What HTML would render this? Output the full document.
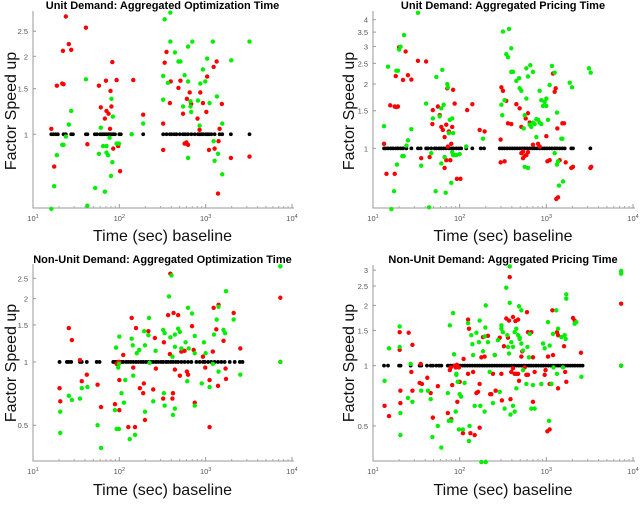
<!DOCTYPE html>
<html><head><meta charset="utf-8">
<style>
html,body{margin:0;padding:0;background:#fff;}
svg{display:block;font-family:"Liberation Sans",sans-serif;}
</style></head>
<body>
<svg id="chart" width="640" height="515" viewBox="0 0 640 515"></svg>
<script>
// ---------- DATA ----------
const p1BlackX=[16.3,17.3,18.4,19.4,22.6,24,27.7,29,41,42.7,52,55,60,62.5,65,68,71,75,78,82,85,89,100,104,139,189,322,352,385,402,432,459,502,547,582,625,683,747,816,853,892,932,1000,1045,1092,1161,1269,1451,1556,1960,3220];
const p1RedX=[16.3,17.6,18.9,21.8,22.6,22.2,24,26,27.7,41,42.6,58,61,68,70,71,75,78,79,81,83,85,93,97,102,145,189,322,322,335,352,385,394,484,510,547,570,598,625,606,653,680,805,850,867,930,1018,1040,1092,1237,1340,1269,1410,1390,1450,1540,1960,3220];
const p1RedY=[1.05,0.75,1.54,1.57,1.56,2.10,2.85,2.23,2.12,2.58,0.915,1.54,1.27,1.15,1.61,1.23,1.2,1.05,1.47,1.28,1.9,0.88,1.62,0.9,0.72,1.62,1.19,1.1,0.87,1.89,2.08,1.32,1.6,1.51,1.61,1.2,0.92,0.93,0.91,1.37,1.45,1.31,1.15,1.04,1.45,1.32,1.22,1.67,0.87,1.82,1.91,0.88,0.94,0.59,1.05,1.31,0.81,0.82];
const p1GreenX=[16.3,17.6,18.9,21.8,22.6,24,26,27.7,41,42.6,52.5,58,61,65,68,71,71,74,77,80,81,84,83,93,99,139,189,322,322,335,365,390,390,440,484,510,570,547,625,625,625,667,667,680,700,815,850,867,930,990,1040,1110,1210,1237,1269,1350,1390,1557,1557,1977,3220];
const p1GreenY=[0.515,0.63,0.83,0.91,0.91,0.98,1.09,1.23,1.63,0.53,0.62,0.84,1.06,0.9,0.6,0.9,0.85,0.83,0.97,0.69,1.37,1.17,0.78,0.92,0.92,1.0,1.1,1.68,1.36,2.78,1.58,2.95,2.28,2.07,1.91,1.91,1.69,1.28,2.18,1.6,0.81,1.34,1.28,1.22,2.28,1.35,1.08,1.57,1.78,1.6,1.96,1.32,2.28,0.94,0.79,1.4,0.84,1.1,0.7,1.93,2.28];

const p2BlackX=[13.4,14,14.9,16,17,18.3,19.4,20.8,22.2,24.3,27.7,33,35.5,41,43,47,51.5,53.8,57.8,61.4,65.3,70,75,80,85,91.6,98,104,119,140,175,191,290,310,330,352,378,405,431,459,492,528,562,598,643,689,733,780,837,899,957,1018,1092,1161,1248,1327,1425,1530,1629,1940,2030,3220];
const p2RedX=[13.4,14.3,15.8,17.8,18.6,19.4,17.8,18.3,20,22.2,23.8,25.3,27.7,33,36,41,45,48.4,49,56,58.8,61.4,64,67,70,73,75,78,80,70,67,72,84,87.5,82,93,102,122,140,170,194,297,297,330,303,316,345,361,394,451,492,515,538,562,588,614,538,578,614,643,515,701,802,837,1000,1028,1092,1194,1248,1282,1303,1365,1340,1425,1530,1600,1671,1940,2030,3220,3300];
const p2RedY=[1.05,0.76,1.59,1.57,1.56,1.57,0.76,2.18,2.97,2.09,2.84,2.2,2.1,2.57,0.9,2.55,0.91,1.3,1.51,1.57,1.43,1.26,1.22,1.13,1.29,1.02,1.2,0.88,1.05,0.88,0.81,1.91,1.88,1.62,1.26,0.72,0.72,1.51,1.61,1.22,1.2,1.1,0.86,0.87,1.93,1.86,1.67,1.31,1.3,1.61,1.54,0.95,0.9,0.92,0.93,0.96,0.965,1.38,1.46,1.32,1.26,1.04,1.05,1.02,1.14,0.87,0.88,2.24,1.84,1.91,0.58,0.59,1.24,0.88,1.31,1.31,0.86,0.81,0.82,0.81,0.82];
const p2GreenX=[13.4,14.9,16.3,17.5,18.6,19.4,20,20.8,18.9,21.8,22.6,22.8,24.3,25.3,27.7,33,36,41,44.3,47,52.8,53.8,49,58.8,61.4,61.4,65.3,67,69,63,72,73,75,77,82,84,80,84,87.5,91.6,100,82,119,186,303,310,316,330,345,361,371,394,394,412,451,484,492,515,588,562,547,562,614,614,588,701,653,643,671,701,733,767,802,837,875,767,837,875,916,957,1000,1000,1045,1092,1161,1248,1248,1327,1365,1327,1400,1490,1530,1557,1860,1977,3100,3250];
const p2GreenY=[1.27,2.41,0.52,0.63,2.31,2.31,2.9,2.99,0.84,0.92,0.92,3.39,1.03,1.09,1.23,4.31,0.83,1.62,0.53,0.95,0.63,2.16,1.38,1.41,0.85,1.54,1.6,0.91,0.62,2.33,2.0,1.93,1.18,1.36,1.38,1.18,0.69,0.93,0.93,0.93,0.94,0.96,1.02,1.11,1.6,1.43,3.52,1.68,2.76,2.67,3.62,2.94,2.28,2.28,2.07,2.13,1.91,1.86,1.71,1.43,1.24,0.82,0.81,2.17,2.37,2.28,2.45,1.29,1.26,1.32,1.3,1.37,1.36,1.32,1.3,1.13,1.86,1.68,1.58,1.65,1.58,1.71,1.36,1.98,2.43,2.26,0.95,0.84,0.87,1.47,0.67,1.11,1.11,0.7,2.03,1.93,2.37,2.26];

const p3BlackX=[20.3,24.7,26,27.7,35,36.7,42,54.7,59,85,89,93,97,102,106,111,120,127,136,145,156,166,178,189,203,217,233,247,265,283,304,322,347,367,395,418,450,480,523,570,625,683,781,853,932,976,1068,1161,1269,1390,1520,1660,1900,2170,2490,2670,7330];
const p3RedX=[20.3,20.7,26,28.2,35,36.7,42,56,61.4,89,93,97,100,100,100,111,127,139,145,152,156,173,189,192,198,217,247,258,265,322,328,367,385,390,412,418,425,440,480,502,523,570,606,625,695,726,747,930,990,1110,1110,1210,1237,1327,1390,1410,1610,1700,1720,2110,2520,7330,7330];
const p3RedY=[0.75,0.65,1.45,1.27,1.02,0.81,0.87,0.78,0.61,0.63,0.98,1.0,1.0,0.59,0.82,1.08,0.49,1.62,0.94,0.49,1.45,0.75,0.71,0.79,0.53,1.4,0.74,1.3,0.93,0.67,1.24,1.67,1.09,2.63,0.67,0.71,1.71,0.92,1.67,0.86,1.12,1.13,0.9,0.87,1.48,1.14,0.64,1.06,0.94,0.82,0.49,1.12,1.81,1.43,0.77,1.87,1.26,0.93,0.83,1.71,1.16,2.02,1.0];
const p3GreenX=[20.7,20.7,26,28.2,35,36.7,42.7,56,61.4,89,91.6,93,97,99,100,99,106,113,117,132,139,143,145,152,159,170,194,198,198,217,221,224,247,263,322,328,335,335,376,390,402,412,418,440,440,440,480,502,523,585,612,625,636,695,747,747,747,900,955,1000,1110,1210,1245,1340,1410,1410,1610,1680,1720,2110,2520,7330,7330];
const p3GreenY=[0.58,0.46,0.69,0.66,0.67,0.75,0.76,0.5,0.39,0.59,1.17,0.48,0.94,0.98,1.32,0.48,0.71,0.64,0.82,0.43,1.29,1.2,0.86,0.45,1.1,1.14,1.4,1.2,0.58,1.34,1.62,0.99,0.65,1.13,1.42,0.71,1.37,0.62,2.05,1.31,2.58,1.06,0.56,1.35,1.18,0.6,1.44,1.39,1.16,1.24,0.81,1.81,1.16,1.7,1.33,1.1,0.62,0.79,1.24,1.1,0.76,0.98,1.35,1.59,1.83,0.9,1.42,1.37,2.17,1.59,0.87,2.85,1.0];

const p4BlackX=[13.4,14.9,20,20.8,27.2,34.5,36,42,46.3,49,53.8,57.8,61.4,73,78,83,89,95,101,108,115,123,131,140,150,160,170,182,194,207,221,236,252,269,287,306,327,349,372,397,424,452,483,515,550,587,626,668,713,761,812,867,925,987,1053,1124,1200,1280,1366,1458,1556,1660,1772,1891,2018,2154,2300,2455,2620,7300];
const p4RedX=[13.6,15.3,20.3,20.3,20.7,20.7,25.8,27.7,28.5,28.5,35.5,34.5,36.7,42.3,46.3,49,56,73,77,79,80,82,87.5,90,93,98,94,109,100,111,125,125,128,133,143,149,156,163,170,170,178,186,194,212,225,232,242,254,260,290,303,307,324,345,371,361,378,386,394,412,412,431,451,472,440,472,484,515,528,562,588,614,598,614,671,701,701,733,957,980,1028,1092,1045,1092,1145,1175,1194,1327,1365,1365,1600,1650,1700,2030,2120,2510,7300,7300];
const p4RedY=[0.63,0.56,1.47,1.2,0.75,0.65,1.46,0.93,0.75,1.27,1.02,0.82,0.81,0.87,0.73,0.55,0.79,0.58,0.95,0.98,0.54,0.8,1.0,0.98,1.01,0.98,0.66,0.46,0.83,1.08,1.7,0.91,1.53,0.46,0.93,0.45,0.73,0.74,0.49,0.81,1.1,1.39,1.11,1.41,0.72,0.72,0.91,1.13,0.75,1.38,0.91,0.67,1.25,1.72,1.68,1.38,2.77,0.68,0.93,0.97,1.75,0.91,0.91,0.91,1.67,1.7,0.84,1.11,1.18,0.98,0.9,0.9,1.85,1.47,1.47,1.1,0.66,0.93,0.9,0.95,0.47,0.48,1.11,0.81,0.81,1.89,1.13,1.47,0.77,1.42,1.25,0.93,0.83,1.73,1.68,1.16,2.04,1.0];
const p4GreenX=[13.6,15.3,20.3,20.3,20.7,20.7,27.2,25.3,28.5,36,43,46.3,48.4,56,61.4,73,77,75,80,84,86,90,91.6,91.6,95,98,100,104,109,114,125,128,130,136,140,143,149,156,167,170,173,178,186,194,194,198,200,200,212,222,242,254,276,290,303,303,316,330,345,355,361,371,378,378,386,394,412,431,451,472,492,515,538,412,431,451,484,492,515,538,588,605,630,643,671,733,701,875,916,957,1045,1075,1092,1145,1194,1210,1303,1327,1365,1490,1557,1629,1671,1700,1700,2120,2220,2540,7300,7300,7300];
const p4GreenY=[0.84,1.22,1.57,1.24,0.58,0.45,1.02,0.69,0.66,0.75,0.75,0.68,0.44,0.5,0.39,0.73,1.59,0.53,0.53,1.83,1.14,0.59,0.91,0.9,0.83,0.48,0.72,0.7,0.48,0.82,1.63,0.42,0.5,1.42,1.28,1.13,0.63,1.46,1.31,1.68,0.63,0.33,1.18,1.4,0.59,1.55,2.0,0.33,1.31,0.93,0.65,1.13,1.34,0.74,1.59,1.53,1.47,0.61,2.45,1.42,1.24,1.15,3.13,2.06,0.57,1.31,1.24,1.47,1.53,1.42,1.36,1.29,1.19,0.63,0.59,0.77,1.98,1.38,1.89,0.95,0.81,1.24,1.1,1.44,0.61,0.61,0.8,0.81,1.29,1.22,1.65,0.53,1.26,0.81,1.44,0.98,1.89,0.91,1.53,1.39,0.98,1.42,1.36,2.27,2.16,1.62,1.65,0.88,2.97,2.88,1.0];

const baselineSpeedup = 1;
const titles=["Unit Demand: Aggregated Optimization Time","Unit Demand: Aggregated Pricing Time","Non-Unit Demand: Aggregated Optimization Time","Non-Unit Demand: Aggregated Pricing Time"];
const p1YTicks=[1,1.5,2,2.5];
const p2YTicks=[1,1.5,2,2.5,3,3.5,4];
const p3YTicks=[0.5,1,1.5,2,2.5];
const p4YTicks=[0.5,1,1.5,2,2.5,3];
const xTickExps=[1,2,3,4];

// ---------- LAYOUT ----------
const NS="http://www.w3.org/2000/svg";
const svg=document.getElementById('chart');
function mk(tag,attrs,parent){const e=document.createElementNS(NS,tag);for(const k in attrs)e.setAttribute(k,attrs[k]);(parent||svg).appendChild(e);return e;}

const panels=[
 {key:'p1',x0:33,x1:292,yT:13,yB:208,yMin:0.519,yMax:2.94,black:p1BlackX,rx:p1RedX,ry:p1RedY,gx:p1GreenX,gy:p1GreenY,ticks:p1YTicks,title:titles[0],titleY:9,xlabY:241,ylabX:16,ylabY:111},
 {key:'p2',x0:373,x1:633,yT:13,yB:208,yMin:0.526,yMax:4.30,black:p2BlackX,rx:p2RedX,ry:p2RedY,gx:p2GreenX,gy:p2GreenY,ticks:p2YTicks,title:titles[1],titleY:9,xlabY:241,ylabX:354,ylabY:111},
 {key:'p3',x0:33,x1:292,yT:266,yB:461,yMin:0.338,yMax:2.86,black:p3BlackX,rx:p3RedX,ry:p3RedY,gx:p3GreenX,gy:p3GreenY,ticks:p3YTicks,title:titles[2],titleY:263,xlabY:495,ylabX:16,ylabY:363},
 {key:'p4',x0:373,x1:633,yT:267,yB:461,yMin:0.334,yMax:3.11,black:p4BlackX,rx:p4RedX,ry:p4RedY,gx:p4GreenX,gy:p4GreenY,ticks:p4YTicks,title:titles[3],titleY:263,xlabY:495,ylabX:354,ylabY:363}
];

panels.forEach(p=>{
  const g=mk('g',{});
  
  
  const xS=v=>p.x0+(Math.log10(v)-1)/3*(p.x1-p.x0);
  const yS=v=>p.yB-(Math.log(v)-Math.log(p.yMin))/(Math.log(p.yMax)-Math.log(p.yMin))*(p.yB-p.yT);
  const cx=(p.x0+p.x1)/2;

  const t=mk('text',{x:cx,y:p.titleY,'text-anchor':'middle','font-size':'11','font-weight':'bold',fill:'#000'},g);
  t.textContent=p.title;
  
  

  const ax=mk('path',{d:`M${p.x0},${p.yT-2}V${p.yB}H${p.x1+2}`,fill:'none',stroke:'#999','stroke-width':'1'},g);
  
  

  xTickExps.forEach(e=>{
    const x=xS(Math.pow(10,e));
    mk('line',{x1:x,x2:x,y1:p.yB,y2:p.yB-4,stroke:'#999'},g);
    const lt=mk('text',{x:x,y:p.yB+13,'text-anchor':'middle','font-size':'7.5',fill:'#555'},g);
    lt.textContent='10';
    const sp=mk('tspan',{dy:'-3','font-size':'5.5'},lt);
    sp.textContent=String(e);
    
    
    if(e<4){for(let m=2;m<=9;m++){const xm=xS(m*Math.pow(10,e));mk('line',{x1:xm,x2:xm,y1:p.yB,y2:p.yB-2,stroke:'#aaa'},g);}}
  });
  p.ticks.forEach(v=>{
    const y=yS(v);
    mk('line',{x1:p.x0,x2:p.x0+3,y1:y,y2:y,stroke:'#999'},g);
    const lt=mk('text',{x:p.x0-5,y:y+3,'text-anchor':'end','font-size':'7.5',fill:'#555'},g);
    lt.textContent=String(v);
    
    
  });

  const xl=mk('text',{x:cx,y:p.xlabY,'text-anchor':'middle','font-size':'16',fill:'#111'},g);
  xl.textContent='Time (sec) baseline';
  
  
  const yl=mk('text',{x:p.ylabX,y:p.ylabY,'text-anchor':'middle','font-size':'16',fill:'#111',transform:`rotate(-90 ${p.ylabX} ${p.ylabY})`},g);
  yl.textContent='Factor Speed up';
  
  

  p.black.forEach(v=>{
    const c=mk('circle',{cx:xS(v),cy:yS(baselineSpeedup),r:1.9,fill:'#000'},g);
    
    
  });
  p.rx.forEach((v,i)=>{
    const c=mk('circle',{cx:xS(v),cy:yS(p.ry[i]),r:2.2,fill:'#f00'},g);
    
    
  });
  p.gx.forEach((v,i)=>{
    const c=mk('circle',{cx:xS(v),cy:yS(p.gy[i]),r:2.2,fill:'#0e0'},g);
    
    
  });
});
</script>
</body></html>
